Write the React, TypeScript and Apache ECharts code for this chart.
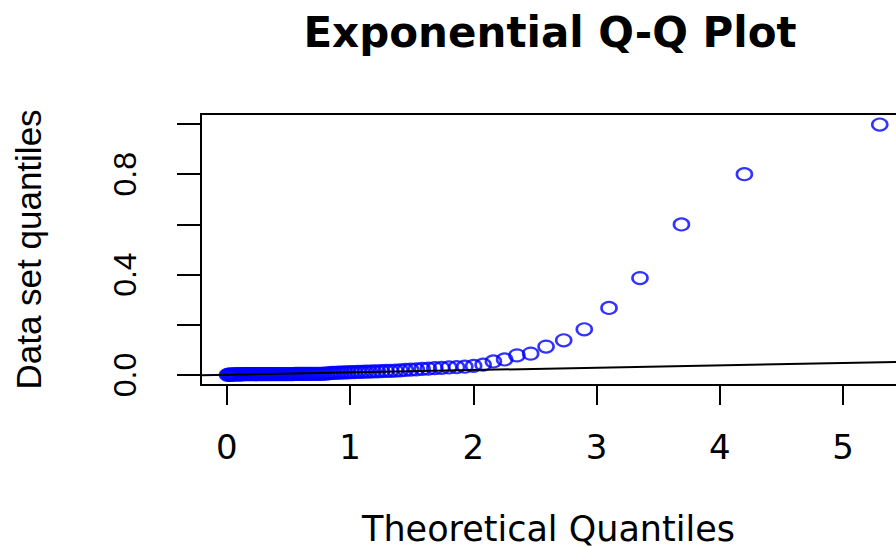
import React, { useEffect, useRef } from "react";
import * as echarts from "echarts";

// Theoretical exponential quantiles (x) for the 100 sorted observations
const theoretical: number[] = [
  0.0050, 0.0151, 0.0253, 0.0356, 0.0460, 0.0566, 0.0672, 0.0780, 0.0888, 0.0998,
  0.1109, 0.1222, 0.1335, 0.1450, 0.1567, 0.1684, 0.1803, 0.1924, 0.2046, 0.2169,
  0.2294, 0.2421, 0.2549, 0.2679, 0.2810, 0.2944, 0.3079, 0.3216, 0.3355, 0.3496,
  0.3638, 0.3783, 0.3930, 0.4080, 0.4231, 0.4385, 0.4541, 0.4700, 0.4861, 0.5025,
  0.5192, 0.5361, 0.5534, 0.5709, 0.5888, 0.6070, 0.6255, 0.6444, 0.6636, 0.6832,
  0.7032, 0.7236, 0.7444, 0.7657, 0.7875, 0.8097, 0.8324, 0.8557, 0.8795, 0.9039,
  0.9289, 0.9545, 0.9808, 1.0079, 1.0356, 1.0642, 1.0936, 1.1239, 1.1552, 1.1874,
  1.2208, 1.2553, 1.2910, 1.3280, 1.3665, 1.4065, 1.4482, 1.4917, 1.5371, 1.5847,
  1.6348, 1.6874, 1.7430, 1.8018, 1.8643, 1.9310, 2.0025, 2.0794, 2.1628, 2.2538,
  2.3539, 2.4651, 2.5903, 2.7334, 2.9004, 3.1011, 3.3524, 3.6889, 4.1997, 5.2983,
];

// Sorted data set quantiles (y)
const sampleQuantiles: number[] = [
  0.0005, 0.001, 0.001, 0.0015, 0.0015, 0.002, 0.002, 0.002, 0.0025, 0.0025,
  0.0025, 0.0025, 0.003, 0.003, 0.003, 0.003, 0.003, 0.003, 0.003, 0.003,
  0.003, 0.003, 0.003, 0.003, 0.003, 0.003, 0.003, 0.003, 0.003, 0.003,
  0.003, 0.003, 0.003, 0.003, 0.0035, 0.0035, 0.0035, 0.0035, 0.0035, 0.0035,
  0.0035, 0.0035, 0.004, 0.004, 0.004, 0.004, 0.004, 0.004, 0.004, 0.004,
  0.004, 0.0045, 0.0045, 0.0045, 0.005, 0.005, 0.007, 0.008, 0.008, 0.009,
  0.009, 0.010, 0.010, 0.011, 0.011, 0.012, 0.012, 0.013, 0.013, 0.014,
  0.014, 0.015, 0.016, 0.016, 0.017, 0.018, 0.020, 0.021, 0.022, 0.024,
  0.025, 0.027, 0.028, 0.030, 0.031, 0.033, 0.036, 0.041, 0.054, 0.062,
  0.078, 0.085, 0.113, 0.138, 0.182, 0.267, 0.386, 0.600, 0.800, 0.998,
];

// Reference line (qqline): intercept and slope
const lineIntercept = 0.0005;
const lineSlope = 0.0095;

const xTicks: number[] = [0, 1, 2, 3, 4, 5];
const yTicks: number[] = [0, 0.2, 0.4, 0.6, 0.8, 1.0];
const yTickLabels: number[] = [0, 0.4, 0.8];

const X_MIN = -0.21;
const X_MAX = 5.43;
const Y_MIN = -0.04;
const Y_MAX = 1.04;

export default function App() {
  const ref = useRef<HTMLDivElement>(null);

  useEffect(() => {
    if (!ref.current) return;
    const chart = echarts.init(ref.current, undefined, { renderer: "svg" });
    const points = theoretical.map((x, i) => [x, sampleQuantiles[i]]);
    const lineData = [
      [X_MIN, lineIntercept + lineSlope * X_MIN],
      [X_MAX, lineIntercept + lineSlope * X_MAX],
    ];
    const axisLineStyle = { color: "#000", width: 2 };
    chart.setOption({
      animation: false,
      backgroundColor: "#fff",
      grid: { left: 201, top: 114, right: 0, bottom: 161 },
      graphic: [
        {
          type: "text",
          x: 550,
          y: 32,
          style: {
            text: "Exponential Q-Q Plot",
            font: "bold 42px 'DejaVu Sans'",
            fill: "#000",
            align: "center",
            verticalAlign: "middle",
          },
        },
      ],
      xAxis: [
        {
          type: "value",
          min: X_MIN,
          max: X_MAX,
          position: "bottom",
          name: "Theoretical Quantiles",
          nameLocation: "middle",
          nameGap: 126,
          nameTextStyle: {
            fontFamily: "DejaVu Sans",
            fontSize: 35,
            lineHeight: 35,
            color: "#000",
          },
          axisLine: { show: true, onZero: false, lineStyle: axisLineStyle },
          axisTick: {
            show: true,
            length: 20,
            customValues: xTicks,
            lineStyle: axisLineStyle,
          },
          axisLabel: {
            customValues: xTicks,
            margin: 45,
            fontFamily: "DejaVu Sans",
            fontSize: 34,
            lineHeight: 34,
            color: "#000",
            formatter: (v: number) => String(Math.round(v)),
          },
          splitLine: { show: false },
        },
        {
          type: "value",
          min: X_MIN,
          max: X_MAX,
          position: "top",
          axisLine: { show: true, onZero: false, lineStyle: axisLineStyle },
          axisTick: { show: false },
          axisLabel: { show: false },
          splitLine: { show: false },
        },
      ],
      yAxis: {
        type: "value",
        min: Y_MIN,
        max: Y_MAX,
        name: "Data set quantiles",
        nameLocation: "middle",
        nameGap: 155,
        nameTextStyle: {
          fontFamily: "Liberation Sans",
          fontSize: 35,
          lineHeight: 35,
          color: "#000",
        },
        axisLine: { show: true, onZero: false, lineStyle: axisLineStyle },
        axisTick: {
          show: true,
          length: 24,
          customValues: yTicks,
          lineStyle: axisLineStyle,
        },
        axisLabel: {
          customValues: yTickLabels,
          rotate: 90,
          margin: 60,
          fontFamily: "Liberation Sans",
          fontSize: 32,
          lineHeight: 32,
          color: "#000",
          formatter: (v: number) => v.toFixed(1),
        },
        splitLine: { show: false },
      },
      series: [
        {
          type: "scatter",
          data: points,
          symbol: "circle",
          symbolSize: [15, 12],
          itemStyle: {
            color: "rgba(0,0,0,0)",
            borderColor: "#0000ff",
            borderWidth: 2.4,
          },
          z: 2,
        },
        {
          type: "line",
          data: lineData,
          showSymbol: false,
          symbol: "none",
          lineStyle: { color: "#000", width: 2 },
          z: 3,
        },
      ],
    });
    return () => chart.dispose();
  }, []);

  return (
    <div
      ref={ref}
      style={{ position: "absolute", left: 0, top: 0, width: 896, height: 547 }}
    />
  );
}
